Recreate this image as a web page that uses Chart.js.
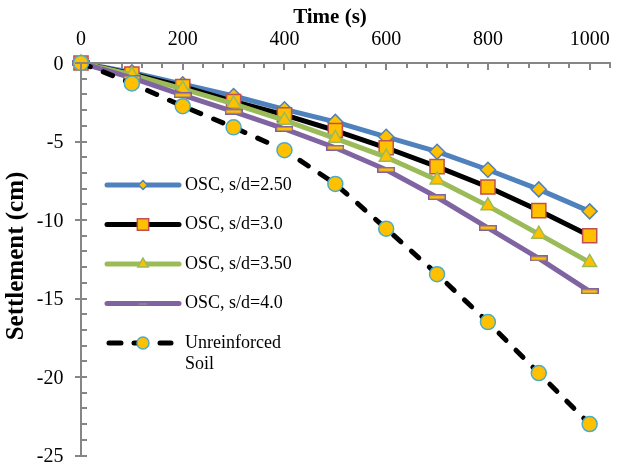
<!DOCTYPE html>
<html>
<head>
<meta charset="utf-8">
<title>Settlement vs time</title>
<script src="https://cdn.jsdelivr.net/npm/chart.js@4.4.1/dist/chart.umd.min.js"></script>
<style>
  body { margin: 0; background: #fff; }
</style>
</head>
<body>
<canvas id="myChart" width="633" height="467"></canvas>
<script>
// time in seconds, settlement in cm
const times = [0, 100, 200, 300, 400, 500, 600, 700, 800, 900, 1000]
const osc250 = [0, -0.6, -1.35, -2.1, -2.95, -3.75, -4.7, -5.65, -6.8, -8.05, -9.45]
const osc30 = [0, -0.7, -1.5, -2.45, -3.3, -4.3, -5.4, -6.6, -7.9, -9.4, -11.0]
const osc350 = [0, -0.75, -1.65, -2.6, -3.65, -4.8, -6.0, -7.45, -9.1, -10.9, -12.7]
const osc40 = [0, -0.95, -2.05, -3.1, -4.2, -5.4, -6.8, -8.55, -10.5, -12.45, -14.55]
const unreinforced = [0, -1.3, -2.75, -4.1, -5.55, -7.7, -10.55, -13.45, -16.5, -19.75, -23.0]

const xLabels = [0, 200, 400, 600, 800, 1000]
const yLabels = [0, -5, -10, -15, -20, -25]

const FILL = "#ffc000"
const AXIS = "#868686"
const FONT = "'Liberation Serif', 'Times New Roman', serif"

Chart.defaults.font.family = FONT
Chart.defaults.color = "#000"

function pts(values) {
    return times.map((t, i) => ({x: t, y: values[i]}))
}

// flat bar marker used by the s/d=4.0 series
function barMarker(w, h, stroke) {
    var c = document.createElement("canvas")
    c.width = w
    c.height = h
    var g = c.getContext("2d")
    g.fillStyle = stroke
    g.fillRect(0, 0, w, h)
    g.fillStyle = FILL
    g.fillRect(1.5, 1.5, w - 3, h - 3)
    return c
}

const series = [
    {label: "OSC, s/d=2.50", data: osc250, color: "#4f81bd", edge: "#4f81bd", style: "rectRot", radius: 7.5, dash: [], legendRadius: 4.5},
    {label: "OSC, s/d=3.0", data: osc30, color: "#000000", edge: "#c0504d", style: "rect", radius: 10, dash: [], legendRadius: 8},
    {label: "OSC, s/d=3.50", data: osc350, color: "#9bbb59", edge: "#9bbb59", style: "triangle", radius: 8, dash: [], legendRadius: 6},
    {label: "OSC, s/d=4.0", data: osc40, color: "#8064a2", edge: "#8064a2", style: barMarker(18, 6, "#8064a2"), radius: 8, dash: [], legendRadius: 0},
    {label: "Unreinforced", label2: "Soil", data: unreinforced, color: "#000000", edge: "#4bacc6", style: "circle", radius: 7.5, dash: [10, 14], legendRadius: 6}
]

const datasets = series.map((s, i) => ({
    label: s.label,
    data: pts(s.data),
    borderColor: s.color,
    borderWidth: 5,
    borderDash: s.dash,
    borderCapStyle: "round",
    borderJoinStyle: "round",
    pointStyle: s.style,
    pointRadius: s.radius,
    pointBackgroundColor: FILL,
    pointBorderColor: s.edge,
    pointBorderWidth: 1.5,
    order: series.length - i,
    clip: false,
    tension: 0
}))

// axes: lines, ticks, tick labels and titles, placed from the chart's scales
const axesPlugin = {
    id: "axesDraw",
    afterDraw(chart) {
        const ctx = chart.ctx
        const xs = chart.scales.x
        const ys = chart.scales.y
        const area = chart.chartArea
        const top = Math.round(area.top)
        const left = Math.round(area.left)
        ctx.save()
        ctx.setLineDash([])
        ctx.strokeStyle = AXIS
        ctx.lineWidth = 2
        ctx.beginPath()
        ctx.moveTo(left, top)
        ctx.lineTo(Math.round(xs.getPixelForValue(1040)) + 1, top)
        ctx.moveTo(left, top)
        ctx.lineTo(left, Math.round(area.bottom))
        // minor ticks every 40 s, major every 200 s
        for (var v = 0; v <= 1040; v += 40) {
            var px = Math.round(xs.getPixelForValue(v))
            ctx.moveTo(px, top)
            ctx.lineTo(px, top + (v % 200 === 0 ? 7 : 5))
        }
        for (var w = 0; w >= -25; w -= 1) {
            var py = Math.round(ys.getPixelForValue(w))
            ctx.moveTo(w % 5 === 0 ? left - 6 : left, py)
            ctx.lineTo(left + 6, py)
        }
        ctx.stroke()

        ctx.fillStyle = "#000"
        ctx.font = "20px " + FONT
        ctx.textAlign = "center"
        ctx.textBaseline = "middle"
        xLabels.forEach(v => ctx.fillText(String(v), xs.getPixelForValue(v), 40))
        ctx.textAlign = "right"
        yLabels.forEach(v => ctx.fillText(String(v), 63.5, ys.getPixelForValue(v) + 1.5))

        ctx.textAlign = "center"
        ctx.font = "bold 21px " + FONT
        ctx.fillText("Time (s)", 330, 18)
        ctx.translate(17, 256)
        ctx.rotate(-Math.PI / 2)
        ctx.font = "bold 25px " + FONT
        ctx.fillText("Settlement (cm)", 0, 0)
        ctx.restore()
    }
}

// legend box sits inside the plot on the left
const legendPlugin = {
    id: "insideLegend",
    afterDraw(chart) {
        const ctx = chart.ctx
        const rows = [185, 224.5, 264, 303.5, 343]
        const x0 = 107, x1 = 179, tx = 185
        ctx.save()
        series.forEach((s, i) => {
            var y = rows[i]
            ctx.strokeStyle = s.color
            ctx.lineWidth = 5
            ctx.lineCap = "round"
            ctx.setLineDash([])
            ctx.beginPath()
            if (s.dash.length) {
                ctx.moveTo(x0 + 2, y); ctx.lineTo(x0 + 14, y)
                ctx.moveTo(x0 + 27, y); ctx.lineTo(x0 + 37, y)
                ctx.moveTo(x0 + 53, y); ctx.lineTo(x0 + 64, y)
            } else {
                ctx.moveTo(x0, y)
                ctx.lineTo(x1, y)
            }
            ctx.stroke()
            var mx = s.dash.length ? 143 : (x0 + x1) / 2
            if (s.legendRadius > 0) {
                ctx.fillStyle = FILL
                ctx.strokeStyle = s.edge
                ctx.lineWidth = 1.5
                Chart.helpers.drawPoint(ctx, {pointStyle: s.style, radius: s.legendRadius, borderWidth: 1.5, rotation: 0}, mx, y)
            } else {
                ctx.strokeStyle = "#b48a9a"
                ctx.lineWidth = 1
                ctx.beginPath()
                ctx.moveTo(mx - 4, y + 0.5)
                ctx.lineTo(mx + 4, y + 0.5)
                ctx.stroke()
            }
            ctx.fillStyle = "#000"
            ctx.font = "18px " + FONT
            ctx.textAlign = "left"
            ctx.textBaseline = "middle"
            ctx.fillText(s.label, tx, y)
            if (s.label2) ctx.fillText(s.label2, tx, y + 21)
        })
        ctx.restore()
    }
}

new Chart(document.getElementById("myChart"), {
    type: "line",
    data: {datasets: datasets},
    options: {
        responsive: false,
        animation: false,
        layout: {padding: {top: 63, right: 23, bottom: 6.8, left: 81}},
        plugins: {
            legend: {display: false},
            tooltip: {enabled: false}
        },
        scales: {
            x: {type: "linear", position: "top", min: 0, max: 1040, display: false},
            y: {type: "linear", min: -25, max: 0, display: false}
        }
    },
    plugins: [axesPlugin, legendPlugin]
})
</script>
</body>
</html>
